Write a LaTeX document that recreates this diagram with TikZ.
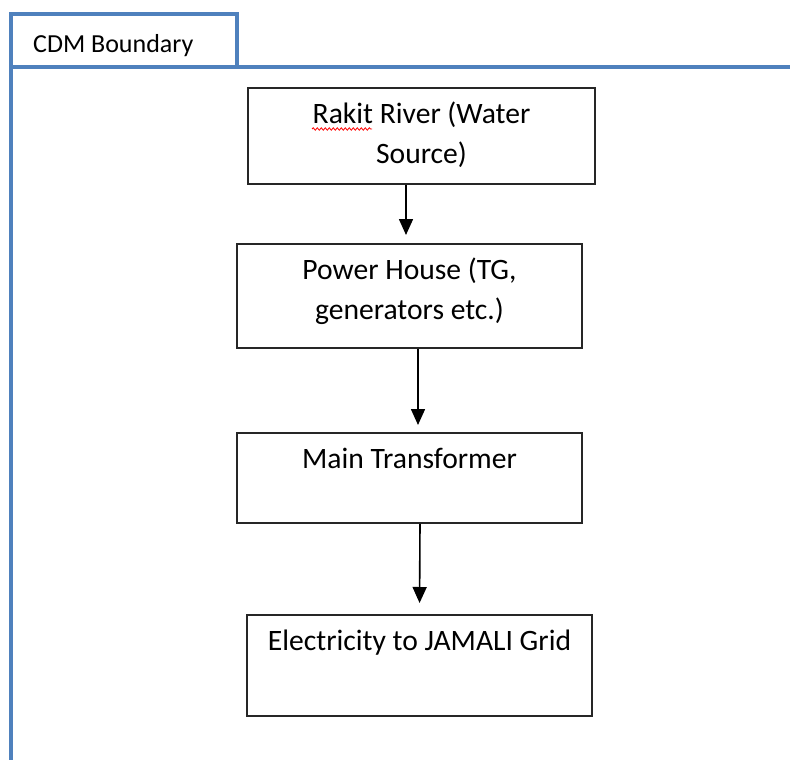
\documentclass[tikz,border=0pt]{standalone}
\usepackage{fontspec}
\setmainfont{Carlito}
\usepackage{xcolor}
\usetikzlibrary{arrows.meta, positioning, decorations.pathmorphing}
\definecolor{FrameBlue}{HTML}{4F81BD}
\definecolor{BoxGrey}{HTML}{262626}
\newcommand{\boxlines}[3]{\parbox[c][#2][t]{#1}{\centering\rule{0pt}{36pt}#3}}

\begin{document}
\begin{tikzpicture}[x=1pt, y=-1pt,
    stage/.style={draw=BoxGrey, line width=1.8pt, rectangle, inner sep=0pt, anchor=north, font=\fontsize{29.6}{40}\selectfont},
    flow/.style={-{Triangle[width=14pt,length=16pt]}, line width=1.6pt},
    frame/.style={draw=FrameBlue, line width=3.4pt}]
    \useasboundingbox (0,0) rectangle (790,760);

    % CDM boundary with its tab
    \draw [frame] (11,760) -- (11,14) -- (237,14) -- (237,67);
    \draw [frame] (11,67) -- (790,67);
    \node [anchor=base west, inner sep=0pt, font=\fontsize{26}{30}\selectfont] (tab) at (33,53) {CDM Boundary};

    % process chain
    \node [stage] (river) at (421.5,87) {\boxlines{347pt}{96pt}{Rakit River (Water\\Source)}};
    \node [stage] (power) at (409.5,243) {\boxlines{345pt}{104pt}{Power House (TG,\\generators etc.)}};
    \node [stage] (trafo) at (409.5,432) {\boxlines{345pt}{90pt}{Main Transformer}};
    \node [stage] (grid) at (419.5,614) {\boxlines{345pt}{101pt}{Electricity to JAMALI Grid}};

    % spell-check mark under "Rakit"
    \draw [red, line width=0.8pt, decorate, decoration={snake, amplitude=1.2pt, segment length=4pt}] (312,129) -- (372,129);

    \draw [flow, shorten >=8pt] ([xshift=-15.5pt]river.south) -- ([xshift=-15.5pt]river.south |- power.north);
    \draw [flow, shorten >=7pt] ([xshift=8.5pt]power.south) -- ([xshift=8.5pt]trafo.north);
    \draw [flow, shorten >=11pt] ([xshift=0.5pt]trafo.south -| grid.north) -- (grid.north);
\end{tikzpicture}
\end{document}
